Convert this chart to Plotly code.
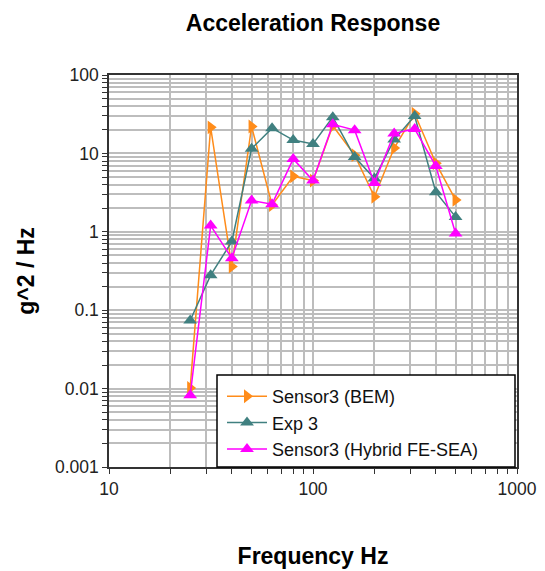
import plotly.graph_objects as go

freqs = [25, 31.5, 40, 50, 63, 80, 100, 125, 160, 200, 250, 315, 400, 500]
bem = [0.0102, 21.5, 0.36, 22, 2.2, 5.1, 4.5, 22.5, 9.5, 2.8, 11.7, 32, 7.5, 2.55]
exp3 = [0.074, 0.28, 0.75, 11.5, 21, 14.8, 13.2, 29, 9.0, 4.8, 15, 30, 3.2, 1.55]
hybrid = [0.0082, 1.2, 0.46, 2.5, 2.25, 8.5, 4.5, 23.5, 19.8, 4.2, 18, 20.5, 6.9, 0.95]

series_names = ["Sensor3 (BEM)", "Exp 3", "Sensor3 (Hybrid FE-SEA)"]
series_colors = ["#FF8C1A", "#408080", "#FF00FF"]
series_symbols = ["triangle-right", "triangle-up", "triangle-up"]

x_major = [10, 100, 1000]
x_minor = [20, 30, 40, 50, 60, 70, 80, 90, 200, 300, 400, 500, 600, 700, 800, 900]
y_major = [0.001, 0.01, 0.1, 1, 10, 100]
y_labels = ["0.001", "0.01", "0.1", "1", "10", "100"]
y_minor = [m * d for d in [0.001, 0.01, 0.1, 1, 10] for m in range(2, 10)]

fig = go.Figure()
for name, vals, col, sym in zip(series_names, [bem, exp3, hybrid], series_colors, series_symbols):
    fig.add_trace(go.Scatter(
        x=freqs, y=vals, name=name, mode="lines+markers",
        line=dict(color=col, width=1.5),
        marker=dict(symbol=sym, size=12, color=col),
    ))

grid_col = "#BDBDBD"
FONT = "Liberation Sans, Arial, sans-serif"
axis_font = dict(family=FONT, size=17.5, color="#222222")
title_font = dict(family=FONT, size=23, color="black")

L, R, T, B = 109, 517, 75, 467
PW, PH = R - L, B - T

def px_x(p):
    return (p - L) / PW

def px_y(p):
    return (B - p) / PH

# legend frame drawn as a shape
fig.add_shape(type="rect", xref="paper", yref="paper",
              x0=px_x(217), x1=px_x(515), y0=px_y(375), y1=px_y(467),
              line=dict(color="black", width=1.5), fillcolor="white", layer="above")

fig.update_layout(
    width=545, height=571,
    margin=dict(l=L, r=545 - R, t=T, b=571 - B, autoexpand=False),
    paper_bgcolor="white", plot_bgcolor="white",
    title=dict(text="<b>Acceleration Response</b>", x=(L + R) / 2 / 545, xanchor="center",
               y=1 - 23 / 571, yanchor="middle", font=title_font),
    xaxis=dict(
        type="log", range=[1, 3], automargin=False,
        tickmode="array", tickvals=x_major, ticktext=["10", "100", "1000"],
        ticks="outside", ticklen=5, tickcolor="#333333",
        showline=True, linecolor="#333333", linewidth=1.5, mirror=True,
        showgrid=True, gridcolor=grid_col, gridwidth=1.5,
        minor=dict(tickmode="array", tickvals=x_minor, ticks="outside", ticklen=5,
                   tickcolor="#333333", showgrid=True, gridcolor=grid_col, gridwidth=1.5),
        tickfont=axis_font, zeroline=False,
        title=dict(text="<b>Frequency Hz</b>", standoff=50, font=title_font),
    ),
    yaxis=dict(
        type="log", range=[-3, 2], automargin=False,
        tickmode="array", tickvals=y_major, ticktext=y_labels,
        ticks="outside", ticklen=5, tickcolor="#333333",
        showline=True, linecolor="#333333", linewidth=1.5, mirror=True,
        showgrid=True, gridcolor=grid_col, gridwidth=1.5,
        minor=dict(tickmode="array", tickvals=y_minor, ticks="outside", ticklen=5,
                   tickcolor="#333333", showgrid=True, gridcolor=grid_col, gridwidth=1.5),
        tickfont=axis_font, zeroline=False,
        title=dict(text="<b>g^2 / Hz</b>", standoff=14, font=title_font),
    ),
    legend=dict(
        x=px_x(222), xanchor="left", y=px_y(378), yanchor="top",
        bgcolor="rgba(0,0,0,0)", borderwidth=0,
        font=dict(family=FONT, size=18, color="#111111"),
        tracegroupgap=0, itemwidth=40,
    ),
)

fig.write_html("out.html")
